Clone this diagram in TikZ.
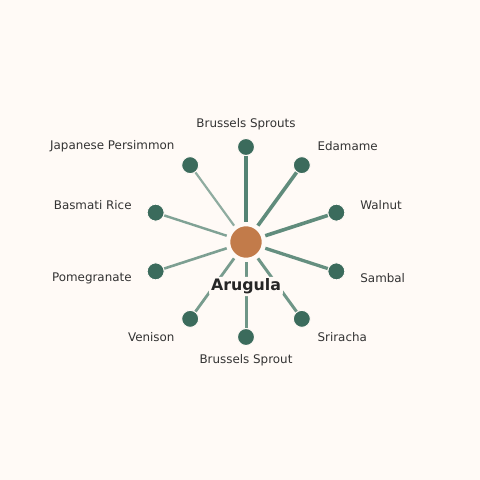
\documentclass[tikz,border=0pt]{standalone}
\usepackage{fontspec}
\setmainfont{DejaVu Sans}
\usetikzlibrary{calc}
\definecolor{bgcream}{HTML}{FFFAF6}
\definecolor{leafgreen}{HTML}{3B6B5C}
\definecolor{spokegreen}{HTML}{4B7D6C}
\definecolor{rootorange}{HTML}{C27B4A}
\definecolor{labelgray}{HTML}{333333}

\begin{document}
\begin{tikzpicture}[x = 1pt, y = 1pt,
        leaf/.style = {circle, fill = leafgreen, draw = bgcream, line width = 1pt, minimum size = 17pt, inner sep = 0pt},
        hub/.style = {circle, fill = rootorange, draw = bgcream, line width = 1.5pt, minimum size = 33pt, inner sep = 0pt},
        leaflabel/.style = {text = labelgray, font = \fontsize{11.9}{14}\selectfont, inner xsep = 2pt, inner ysep = 0pt},
        spoke/.style = {draw = spokegreen, shorten < = 3pt}]
        \fill[bgcream] (0, 0) rectangle (480, 480);
        \node[hub] (arugula) at (246, 238) {};
        \foreach \ang/\name/\txt/\lw/\op/\anc in {90/sprouts/Brussels Sprouts/4.5/0.95/center,
                54/edamame/Edamame/3.6/0.88/west, 18/walnut/Walnut/3.6/0.88/west,
                -18/sambal/Sambal/3.3/0.85/west, -54/sriracha/Sriracha/3.0/0.8/west,
                -90/sprout/Brussels Sprout/3.0/0.8/center, -126/venison/Venison/2.8/0.75/east,
                -162/pomegranate/Pomegranate/2.6/0.72/east, 162/basmati/Basmati Rice/2.4/0.7/east,
                126/persimmon/Japanese Persimmon/2.2/0.62/east}
        {
            \node[leaf] (\name) at ($(arugula) + (\ang:95)$) {};
            \draw[spoke, line width = \lw pt, opacity = \op] (arugula) -- (\name);
            \node[leaflabel, anchor = \anc] (\name-label) at ($(arugula) + (\ang:118)$) {\txt};
        }
        \node[fill = bgcream, rounded corners = 3pt, inner sep = 2pt, text = black!85, font = \bfseries\fontsize{15.8}{18}\selectfont] (arugula-label) at (246, 193.5) {Arugula};
    \end{tikzpicture}
\end{document}
